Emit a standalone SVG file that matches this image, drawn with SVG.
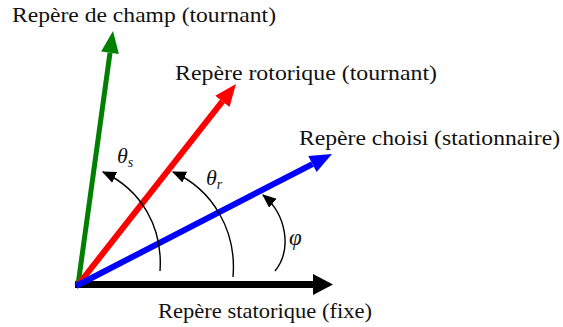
<svg xmlns="http://www.w3.org/2000/svg" width="563" height="327" viewBox="0 0 563 327">
<defs>
<style>
.arc{fill:none;stroke:#000;stroke-width:1.4;marker-end:url(#ah);}
</style>
<marker id="ah" markerUnits="userSpaceOnUse" markerWidth="14" markerHeight="12" refX="11" refY="5" orient="auto" viewBox="0 0 12 10">
<path d="M0,0 L12,5 L0,10 Z" fill="#000"/>
</marker>
</defs>
<rect width="563" height="327" fill="#fff"/>
<g id="connectors">
<g id="stator-axis">
<line x1="75" y1="284.5" x2="314" y2="284.5" stroke="#000" stroke-width="7"/>
<polygon points="333,284.5 313,274 313,295" fill="#000"/>
</g>
<g id="field-axis">
<line x1="78" y1="285" x2="110" y2="52.8" stroke="#008000" stroke-width="5"/>
<polygon points="113,31 118.9,54 101.1,51.6" fill="#008000"/>
</g>
<g id="rotor-axis">
<line x1="78" y1="285" x2="222.4" y2="101.3" stroke="#ff0000" stroke-width="6"/>
<polygon points="236,84 229.5,106.9 215.3,95.7" fill="#ff0000"/>
</g>
<g id="chosen-axis">
<line x1="76" y1="286" x2="312.4" y2="164.1" stroke="#0000ff" stroke-width="6"/>
<polygon points="332,154 316.6,172.1 308.3,156.1" fill="#0000ff"/>
</g>
<g id="angles">
<path class="arc" d="M160,271 C163,228 142,190 103,172"/>
<path class="arc" d="M233,277 C237,230 212,189 173,172"/>
<path class="arc" d="M275,271 C292,250 287,215 263,195"/>
</g>
</g>
<g font-family="'Liberation Serif', serif" font-size="21" fill="#111">
<g id="label-field"><text x="12" y="22" textLength="264" lengthAdjust="spacingAndGlyphs">Repère de champ (tournant)</text></g>
<g id="label-rotor"><text x="175" y="80" textLength="262" lengthAdjust="spacingAndGlyphs">Repère rotorique (tournant)</text></g>
<g id="label-chosen"><text x="299" y="145" textLength="261" lengthAdjust="spacingAndGlyphs">Repère choisi (stationnaire)</text></g>
<g id="label-stator"><text x="158" y="318" textLength="214" lengthAdjust="spacingAndGlyphs">Repère statorique (fixe)</text></g>
<g id="theta-s"><text x="117" y="163" font-style="italic" font-size="22">θ<tspan font-size="14" dy="4">s</tspan></text></g>
<g id="theta-r"><text x="206" y="185" font-style="italic" font-size="22">θ<tspan font-size="14" dy="4">r</tspan></text></g>
<g id="phi"><text x="289" y="245" font-style="italic" font-size="23">φ</text></g>
</g>
</svg>
